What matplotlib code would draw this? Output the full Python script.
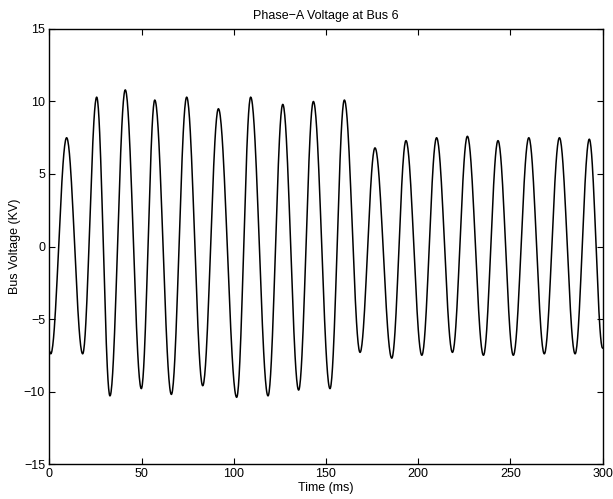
import numpy as np
import matplotlib
matplotlib.use("Agg")
import matplotlib.pyplot as plt

plt.rcParams['font.family'] = ['Liberation Sans', 'DejaVu Sans']

# Extrema of the waveform (time in ms, voltage in KV)
ext_time = [0.0, 0.8, 9.4, 18.1, 25.7, 32.9, 41.2, 49.9, 57.2, 66.2, 74.5, 83.2,
            91.7, 101.6, 109.2, 118.6, 126.6, 135.2, 143.2, 152.2, 160.0, 168.5,
            176.6, 185.7, 193.4, 202.0, 210.0, 218.6, 226.7, 235.4, 243.3, 251.6,
            260.0, 268.4, 276.6, 285.1, 292.8, 300.0]
ext_volt = [-7.2, -7.4, 7.5, -7.4, 10.3, -10.3, 10.8, -9.8, 10.1, -10.2, 10.3, -9.6,
            9.5, -10.4, 10.3, -10.3, 9.8, -9.9, 10.0, -9.8, 10.1, -7.3,
            6.8, -7.7, 7.3, -7.5, 7.5, -7.3, 7.6, -7.5, 7.3, -7.5,
            7.5, -7.4, 7.5, -7.4, 7.4, -7.0]

xticks = [0, 50, 100, 150, 200, 250, 300]
yticks = [-15, -10, -5, 0, 5, 10, 15]

# Build a smooth waveform: half-cosine segments between consecutive extrema
ts, vs = [], []
for i in range(len(ext_time) - 1):
    t0, t1 = ext_time[i], ext_time[i + 1]
    v0, v1 = ext_volt[i], ext_volt[i + 1]
    s = np.linspace(0, 1, 40, endpoint=False)
    ts.append(t0 + (t1 - t0) * s)
    vs.append(v0 + (v1 - v0) * (1 - np.cos(np.pi * s)) / 2)
ts.append([ext_time[-1]])
vs.append([ext_volt[-1]])
t = np.concatenate(ts)
v = np.concatenate(vs)

fig = plt.figure(figsize=(6.13, 4.99), dpi=100)
ax = fig.add_axes([0.0804, 0.070, 0.9026, 0.872])
ax.plot(t, v, color='black', linewidth=1.1)
ax.set_xlim(0, 300)
ax.set_ylim(-15, 15)
ax.set_xticks(xticks)
ax.set_yticks(yticks)
ax.tick_params(direction='in', top=True, right=True, length=4, width=0.8,
               labelsize=9, pad=3)
for sp in ax.spines.values():
    sp.set_linewidth(1.0)
ax.set_title('Phase\u2212A Voltage at Bus 6', fontsize=9, pad=7)
ax.set_xlabel('Time (ms)', fontsize=9, labelpad=1)
ax.set_ylabel('Bus Voltage (KV)', fontsize=9, labelpad=2)
ax.set_yticklabels(['\u221215', '\u221210', '\u22125', '0', '5', '10', '15'])
fig.savefig('out.png', dpi=100)
